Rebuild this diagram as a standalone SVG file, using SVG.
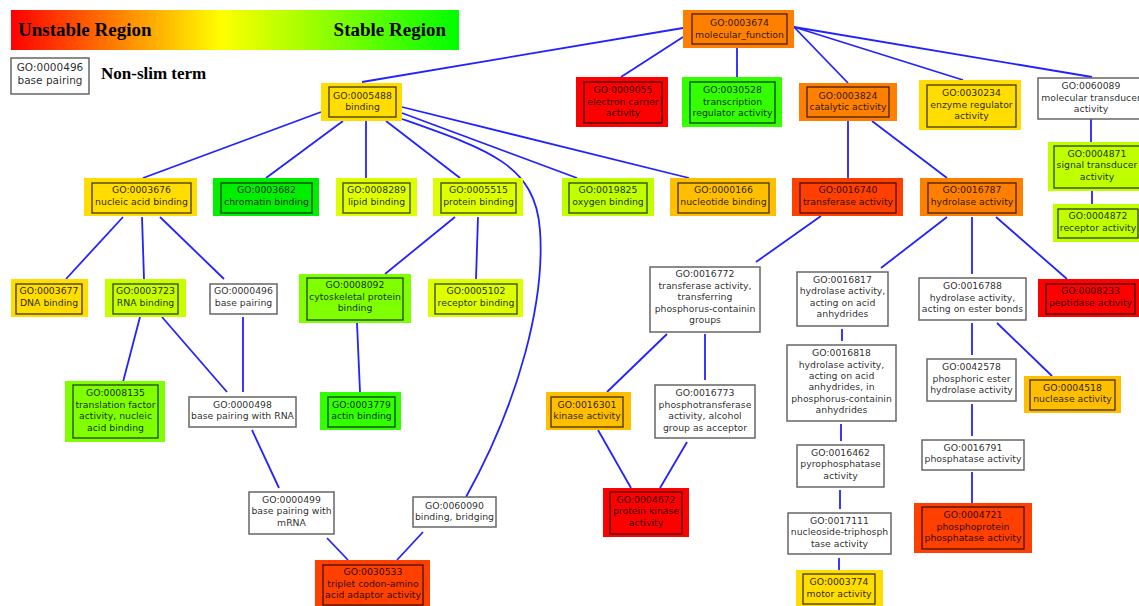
<svg xmlns="http://www.w3.org/2000/svg" width="1139" height="606" viewBox="0 0 1139 606">
<defs>
<linearGradient id="grad" x1="0" y1="0" x2="1" y2="0">
<stop offset="0" stop-color="#ff0000"/>
<stop offset="0.47" stop-color="#ffff00"/>
<stop offset="1" stop-color="#00ff00"/>
</linearGradient>
<style>
.o{stroke:none}
.i{fill:none;stroke:#000;stroke-opacity:0.75;stroke-width:1.3}
.w{fill:#fff;stroke:#666;stroke-width:1.5}
.t{font-family:"DejaVu Sans",sans-serif;font-size:9.3px;fill:#000;fill-opacity:0.85;text-anchor:middle}
.lg{font-family:"Liberation Serif",serif;font-weight:bold;fill:#000}
#edges path,#edges line{stroke:#2222ff;stroke-width:1.8;fill:none}
</style>
</defs>
<rect width="1139" height="606" fill="#fff"/>
<g id="legend">
<rect x="11" y="10" width="448" height="40" fill="url(#grad)"/>
<text class="lg" x="18" y="36" font-size="19">Unstable Region</text>
<text class="lg" x="446" y="36" font-size="19" text-anchor="end">Stable Region</text>
<rect class="w" x="11" y="58" width="78" height="36"/>
<text class="t" x="50" y="70.8" style="font-size:10.5px">GO:0000496</text>
<text class="t" x="50" y="84.2" style="font-size:10.5px">base pairing</text>
<text class="lg" x="101" y="79.3" font-size="17">Non-slim term</text>
</g>
<g id="edges">
<line x1="683" y1="28" x2="362" y2="82"/>
<line x1="683" y1="37" x2="621" y2="77"/>
<line x1="737" y1="48" x2="737" y2="77"/>
<line x1="794" y1="27" x2="848" y2="83"/>
<line x1="794" y1="27" x2="963" y2="80"/>
<line x1="794" y1="27" x2="1092" y2="77"/>
<line x1="1091" y1="119" x2="1091" y2="142"/>
<line x1="1092" y1="191" x2="1092" y2="204"/>
<line x1="848" y1="121" x2="848" y2="178"/>
<line x1="872" y1="121" x2="947" y2="178"/>
<line x1="321" y1="112" x2="143" y2="178"/>
<line x1="343" y1="121" x2="266" y2="178"/>
<line x1="366" y1="121" x2="366" y2="178"/>
<line x1="386" y1="121" x2="460" y2="178"/>
<path d="M402,119 C490,150 535,165 540,230 C545,300 520,400 466,497"/>
<line x1="402" y1="113" x2="577" y2="178"/>
<line x1="402" y1="107" x2="689" y2="178"/>
<line x1="123" y1="217" x2="66" y2="279"/>
<line x1="142" y1="217" x2="144" y2="279"/>
<line x1="160" y1="217" x2="224" y2="279"/>
<line x1="140" y1="317" x2="123" y2="382"/>
<line x1="162" y1="317" x2="227" y2="392"/>
<line x1="243" y1="317" x2="243" y2="392"/>
<line x1="455" y1="217" x2="385" y2="274"/>
<line x1="478" y1="217" x2="476" y2="279"/>
<line x1="357" y1="323" x2="360" y2="392"/>
<line x1="252" y1="430" x2="279" y2="488"/>
<line x1="327" y1="538" x2="348" y2="560"/>
<line x1="423" y1="532" x2="397" y2="560"/>
<line x1="821" y1="216" x2="756" y2="262"/>
<line x1="667" y1="334" x2="607" y2="392"/>
<line x1="705" y1="334" x2="705" y2="380"/>
<line x1="598" y1="430" x2="631" y2="488"/>
<line x1="687" y1="442" x2="660" y2="488"/>
<line x1="947" y1="217" x2="881" y2="268"/>
<line x1="972" y1="217" x2="972" y2="274"/>
<line x1="996" y1="217" x2="1067" y2="279"/>
<line x1="842" y1="329" x2="842" y2="341"/>
<line x1="972" y1="323" x2="972" y2="355"/>
<line x1="997" y1="323" x2="1052" y2="376"/>
<line x1="841" y1="424" x2="841" y2="441"/>
<line x1="972" y1="404" x2="972" y2="436"/>
<line x1="840" y1="490" x2="840" y2="509"/>
<line x1="972" y1="472" x2="972" y2="503"/>
<line x1="839" y1="558" x2="839" y2="570"/>
</g>
<g id="n3674"><rect class="o" x="683" y="10" width="111" height="38" fill="#ff8000"/><rect class="i" x="692" y="14" width="95" height="30"/><text class="t" x="739.5" y="26">GO:0003674</text><text class="t" x="739.5" y="37.5">molecular_function</text></g>
<g id="n5488"><rect class="o" x="321" y="83" width="81" height="38" fill="#ffdd00"/><rect class="i" x="329" y="87" width="67" height="30"/><text class="t" x="362.5" y="98.5">GO:0005488</text><text class="t" x="362.5" y="110">binding</text></g>
<g id="n9055"><rect class="o" x="576" y="77" width="92" height="50" fill="#ff0000"/><rect class="i" x="584" y="82" width="78" height="41"/><text class="t" x="623" y="93.3">GO:0009055</text><text class="t" x="623" y="104.8">electron carrier</text><text class="t" x="623" y="116.3">activity</text></g>
<g id="n30528"><rect class="o" x="682" y="77" width="100" height="50" fill="#33ff00"/><rect class="i" x="690" y="82" width="85" height="41"/><text class="t" x="732.5" y="93">GO:0030528</text><text class="t" x="732.5" y="104.5">transcription</text><text class="t" x="732.5" y="116">regulator activity</text></g>
<g id="n3824"><rect class="o" x="799" y="83" width="98" height="38" fill="#ff8000"/><rect class="i" x="807" y="87" width="82" height="30"/><text class="t" x="848" y="98.5">GO:0003824</text><text class="t" x="848" y="110">catalytic activity</text></g>
<g id="n30234"><rect class="o" x="919" y="80" width="102" height="50" fill="#ffdd00"/><rect class="i" x="927" y="85" width="89" height="42"/><text class="t" x="971.5" y="96">GO:0030234</text><text class="t" x="971.5" y="107.5">enzyme regulator</text><text class="t" x="971.5" y="119">activity</text></g>
<g id="n60089"><rect class="w" x="1038" y="78" width="106" height="41"/><text class="t" x="1091" y="89">GO:0060089</text><text class="t" x="1091" y="100.5">molecular transducer</text><text class="t" x="1091" y="112">activity</text></g>
<g id="n4871"><rect class="o" x="1048" y="142" width="98" height="49" fill="#bfff00"/><rect class="i" x="1054" y="146" width="86" height="42"/><text class="t" x="1097" y="156.5">GO:0004871</text><text class="t" x="1097" y="168">signal transducer</text><text class="t" x="1097" y="179.5">activity</text></g>
<g id="n4872"><rect class="o" x="1053" y="204" width="92" height="38" fill="#bfff00"/><rect class="i" x="1058" y="209" width="80" height="29"/><text class="t" x="1098" y="219">GO:0004872</text><text class="t" x="1098" y="230.5">receptor activity</text></g>
<g id="n3676"><rect class="o" x="84" y="178" width="113" height="38" fill="#ffdd00"/><rect class="i" x="92" y="183" width="99" height="30"/><text class="t" x="141.5" y="193.3">GO:0003676</text><text class="t" x="141.5" y="205">nucleic acid binding</text></g>
<g id="n3682"><rect class="o" x="213" y="178" width="106" height="38" fill="#00ee00"/><rect class="i" x="221" y="183" width="91" height="30"/><text class="t" x="266.5" y="193.3">GO:0003682</text><text class="t" x="266.5" y="205">chromatin binding</text></g>
<g id="n8289"><rect class="o" x="336" y="178" width="81" height="38" fill="#ddff00"/><rect class="i" x="343" y="183" width="67" height="30"/><text class="t" x="376.5" y="193.3">GO:0008289</text><text class="t" x="376.5" y="205">lipid binding</text></g>
<g id="n5515"><rect class="o" x="433" y="178" width="90" height="38" fill="#ddff00"/><rect class="i" x="441" y="183" width="75" height="30"/><text class="t" x="478.5" y="193.3">GO:0005515</text><text class="t" x="478.5" y="205">protein binding</text></g>
<g id="n19825"><rect class="o" x="562" y="178" width="92" height="38" fill="#bfff00"/><rect class="i" x="569" y="183" width="78" height="30"/><text class="t" x="608" y="193.3">GO:0019825</text><text class="t" x="608" y="205">oxygen binding</text></g>
<g id="n166"><rect class="o" x="670" y="178" width="106" height="38" fill="#ffbf00"/><rect class="i" x="678" y="183" width="91" height="30"/><text class="t" x="723.5" y="193.3">GO:0000166</text><text class="t" x="723.5" y="205">nucleotide binding</text></g>
<g id="n16740"><rect class="o" x="792" y="178" width="111" height="38" fill="#ff4000"/><rect class="i" x="800" y="183" width="96" height="30"/><text class="t" x="848" y="193.3">GO:0016740</text><text class="t" x="848" y="205">transferase activity</text></g>
<g id="n16787"><rect class="o" x="920" y="178" width="103" height="38" fill="#ff8000"/><rect class="i" x="928" y="183" width="88" height="30"/><text class="t" x="972" y="193.3">GO:0016787</text><text class="t" x="972" y="205">hydrolase activity</text></g>
<g id="n3677"><rect class="o" x="11" y="279" width="77" height="38" fill="#ffdd00"/><rect class="i" x="16" y="284" width="66" height="30"/><text class="t" x="49" y="294">GO:0003677</text><text class="t" x="49" y="305.5">DNA binding</text></g>
<g id="n3723"><rect class="o" x="105" y="279" width="81" height="38" fill="#c8ff00"/><rect class="i" x="113" y="284" width="65" height="30"/><text class="t" x="145.5" y="294">GO:0003723</text><text class="t" x="145.5" y="305.5">RNA binding</text></g>
<g id="n496"><rect class="w" x="210" y="284" width="67" height="30"/><text class="t" x="243.5" y="294">GO:0000496</text><text class="t" x="243.5" y="305.5">base pairing</text></g>
<g id="n8092"><rect class="o" x="299" y="274" width="112" height="49" fill="#80ff00"/><rect class="i" x="307" y="278" width="96" height="42"/><text class="t" x="355" y="288.3">GO:0008092</text><text class="t" x="355" y="299.8">cytoskeletal protein</text><text class="t" x="355" y="311.3">binding</text></g>
<g id="n5102"><rect class="o" x="428" y="279" width="95" height="38" fill="#ddff00"/><rect class="i" x="435" y="284" width="82" height="30"/><text class="t" x="476" y="294">GO:0005102</text><text class="t" x="476" y="305.5">receptor binding</text></g>
<g id="n16772"><rect class="w" x="650" y="267" width="110" height="65"/><text class="t" x="705" y="277.3">GO:0016772</text><text class="t" x="705" y="288.8">transferase activity,</text><text class="t" x="705" y="300.3">transferring</text><text class="t" x="705" y="311.8">phosphorus-containin</text><text class="t" x="705" y="323.3">groups</text></g>
<g id="n16817"><rect class="w" x="797" y="272" width="91" height="54"/><text class="t" x="842.5" y="282.6">GO:0016817</text><text class="t" x="842.5" y="294.1">hydrolase activity,</text><text class="t" x="842.5" y="305.6">acting on acid</text><text class="t" x="842.5" y="317.1">anhydrides</text></g>
<g id="n16788"><rect class="w" x="919" y="278" width="107" height="42"/><text class="t" x="972.5" y="289">GO:0016788</text><text class="t" x="972.5" y="300.5">hydrolase activity,</text><text class="t" x="972.5" y="312">acting on ester bonds</text></g>
<g id="n8233"><rect class="o" x="1038" y="279" width="106" height="38" fill="#ff0000"/><rect class="i" x="1046" y="284" width="89" height="30"/><text class="t" x="1090.5" y="294">GO:0008233</text><text class="t" x="1090.5" y="305.5">peptidase activity</text></g>
<g id="n8135"><rect class="o" x="65" y="381" width="100" height="61" fill="#80ff00"/><rect class="i" x="73" y="385" width="85" height="53"/><text class="t" x="115.5" y="396">GO:0008135</text><text class="t" x="115.5" y="407.5">translation factor</text><text class="t" x="115.5" y="419">activity, nucleic</text><text class="t" x="115.5" y="430.5">acid binding</text></g>
<g id="n498"><rect class="w" x="189" y="397" width="107" height="30"/><text class="t" x="242.5" y="407.6">GO:0000498</text><text class="t" x="242.5" y="419">base pairing with RNA</text></g>
<g id="n3779"><rect class="o" x="320" y="392" width="81" height="38" fill="#33ff00"/><rect class="i" x="328" y="397" width="67" height="30"/><text class="t" x="361.5" y="407.6">GO:0003779</text><text class="t" x="361.5" y="419">actin binding</text></g>
<g id="n16301"><rect class="o" x="546" y="392" width="85" height="38" fill="#ffbf00"/><rect class="i" x="551" y="397" width="72" height="30"/><text class="t" x="587" y="407.6">GO:0016301</text><text class="t" x="587" y="419">kinase activity</text></g>
<g id="n16773"><rect class="w" x="655" y="385" width="100" height="53"/><text class="t" x="705" y="396">GO:0016773</text><text class="t" x="705" y="407.5">phosphotransferase</text><text class="t" x="705" y="419">activity, alcohol</text><text class="t" x="705" y="430.5">group as acceptor</text></g>
<g id="n16818"><rect class="w" x="787" y="345" width="109" height="76"/><text class="t" x="841.5" y="356">GO:0016818</text><text class="t" x="841.5" y="367.6">hydrolase activity,</text><text class="t" x="841.5" y="379">acting on acid</text><text class="t" x="841.5" y="390.3">anhydrides, in</text><text class="t" x="841.5" y="401.6">phosphorus-containin</text><text class="t" x="841.5" y="413.3">anhydrides</text></g>
<g id="n42578"><rect class="w" x="927" y="359" width="89" height="42"/><text class="t" x="971.5" y="370">GO:0042578</text><text class="t" x="971.5" y="381.6">phosphoric ester</text><text class="t" x="971.5" y="393.3">hydrolase activity</text></g>
<g id="n4518"><rect class="o" x="1024" y="376" width="97" height="37" fill="#ffbf00"/><rect class="i" x="1030" y="380" width="85" height="30"/><text class="t" x="1072.5" y="390.6">GO:0004518</text><text class="t" x="1072.5" y="402.3">nuclease activity</text></g>
<g id="n499"><rect class="w" x="249" y="492" width="85" height="42"/><text class="t" x="291.5" y="502.6">GO:0000499</text><text class="t" x="291.5" y="514.3">base pairing with</text><text class="t" x="291.5" y="525.6">mRNA</text></g>
<g id="n60090"><rect class="w" x="413" y="497" width="83" height="30"/><text class="t" x="454.5" y="508.6">GO:0060090</text><text class="t" x="454.5" y="520">binding, bridging</text></g>
<g id="n4672"><rect class="o" x="603" y="488" width="86" height="49" fill="#ff0000"/><rect class="i" x="610" y="492" width="72" height="42"/><text class="t" x="646" y="502.6">GO:0004672</text><text class="t" x="646" y="514.3">protein kinase</text><text class="t" x="646" y="525.6">activity</text></g>
<g id="n16462"><rect class="w" x="797" y="445" width="87" height="42"/><text class="t" x="840.5" y="455.6">GO:0016462</text><text class="t" x="840.5" y="467">pyrophosphatase</text><text class="t" x="840.5" y="478.6">activity</text></g>
<g id="n16791"><rect class="w" x="922" y="440" width="102" height="30"/><text class="t" x="973" y="451">GO:0016791</text><text class="t" x="973" y="462.3">phosphatase activity</text></g>
<g id="n4721"><rect class="o" x="914" y="503" width="118" height="50" fill="#ff4000"/><rect class="i" x="922" y="507" width="102" height="42"/><text class="t" x="973" y="518.3">GO:0004721</text><text class="t" x="973" y="529.6">phosphoprotein</text><text class="t" x="973" y="541">phosphatase activity</text></g>
<g id="n17111"><rect class="w" x="788" y="513" width="103" height="41"/><text class="t" x="839.5" y="524">GO:0017111</text><text class="t" x="839.5" y="535.3">nucleoside-triphosph</text><text class="t" x="839.5" y="546.6">tase activity</text></g>
<g id="n3774"><rect class="o" x="796" y="570" width="87" height="40" fill="#ffdd00"/><rect class="i" x="803" y="574" width="72" height="30"/><text class="t" x="839" y="585">GO:0003774</text><text class="t" x="839" y="596.6">motor activity</text></g>
<g id="n30533"><rect class="o" x="315" y="560" width="115" height="50" fill="#ff4000"/><rect class="i" x="323" y="565" width="100" height="40"/><text class="t" x="373" y="575">GO:0030533</text><text class="t" x="373" y="586.6">triplet codon-amino</text><text class="t" x="373" y="598.3">acid adaptor activity</text></g>
</svg>
